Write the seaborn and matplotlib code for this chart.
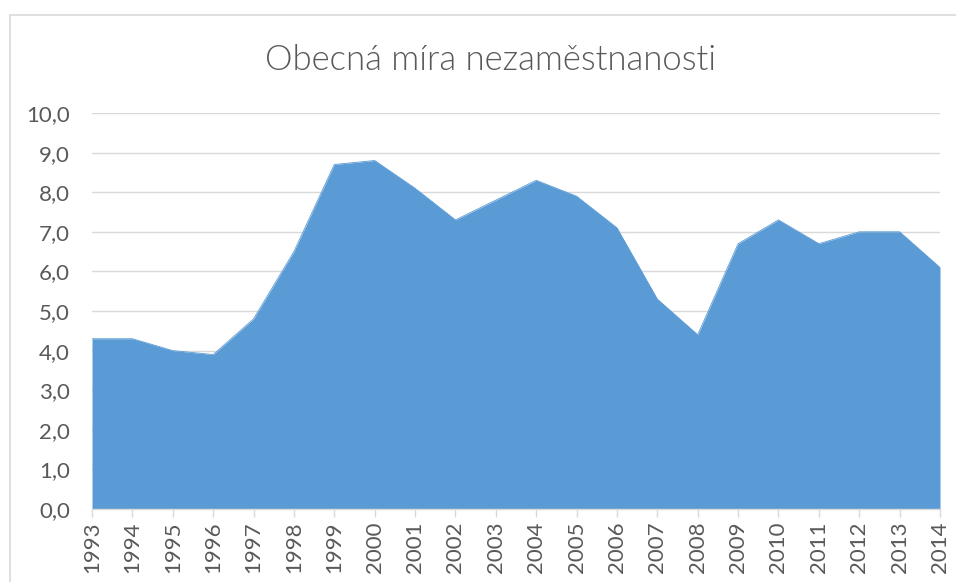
import matplotlib
matplotlib.use("Agg")
import matplotlib.pyplot as plt
import seaborn as sns
import pandas as pd
from matplotlib.patches import Rectangle

years = list(range(1993, 2015))
rates = [4.3, 4.3, 4.0, 3.9, 4.8, 6.5, 8.7, 8.8, 8.1, 7.3, 7.8, 8.3, 7.9, 7.1,
         5.3, 4.4, 6.7, 7.3, 6.7, 7.0, 7.0, 6.1]
title = "Obecná míra nezaměstnanosti"

df = pd.DataFrame({"rok": years, "mira": rates})

sns.set_theme(style="white")
plt.rcParams['font.family'] = ['Lato', 'DejaVu Sans']

fig = plt.figure(figsize=(9.56, 5.82), dpi=100)
fig.patches.append(Rectangle((9.5/956, -0.1), 1.2, 1 - 14.5/582 + 0.1,
                             transform=fig.transFigure, fill=False,
                             edgecolor="#D9D9D9", linewidth=1.2))
ax = fig.add_axes([92/956, (582-509)/582, (940-92)/956, (509-113)/582])

color = "#5B9BD5"
sns.lineplot(data=df, x="rok", y="mira", ax=ax, color=color, linewidth=0.6)
ax.fill_between(df["rok"], 0, df["mira"], color=color, linewidth=0, zorder=2)

ax.set_xlim(1993, 2014)
ax.set_ylim(0, 10)
ax.set_yticks([i for i in range(0, 11)])
ax.set_yticklabels([f"{i},0" for i in range(0, 11)])
ax.set_xticks(years)
ax.set_xticklabels([str(y) for y in years], rotation=90)
ax.grid(axis="y", color="#D9D9D9", linewidth=1.0, zorder=0)
ax.set_axisbelow(True)
for s in ["left", "right", "top"]:
    ax.spines[s].set_visible(False)
ax.spines["bottom"].set_color("#D9D9D9")
ax.spines["bottom"].set_linewidth(1.0)
ax.spines["bottom"].set_zorder(3)
ax.tick_params(axis="x", length=6, width=1, color="#D9D9D9", labelsize=16,
               labelcolor="#595959", pad=3, bottom=True, direction="out")
ax.tick_params(axis="y", length=0, labelsize=16, labelcolor="#595959", pad=16)
ax.set_xlabel("")
ax.set_ylabel("")

fig.text((263+718)/2/956, 1 - 60/582, title, ha="center", va="center",
         fontsize=25, color="#595959", fontweight=300)

fig.savefig("out.png", dpi=100)
